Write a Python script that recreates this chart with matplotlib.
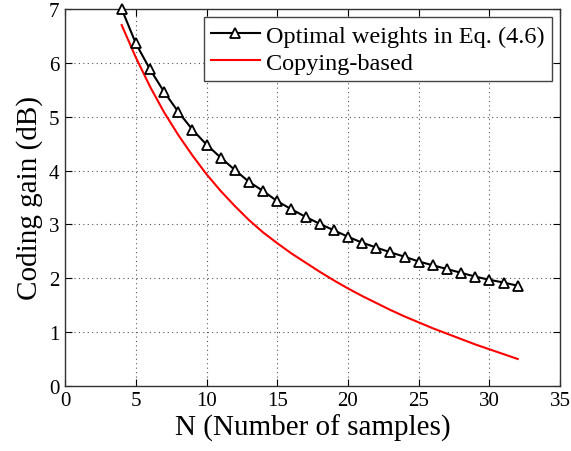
import matplotlib
matplotlib.use("Agg")
import matplotlib.pyplot as plt

N = list(range(4, 33))
optimal = [7.00, 6.36, 5.88, 5.46, 5.09, 4.76, 4.48, 4.24, 4.01, 3.79, 3.62, 3.43,
           3.28, 3.14, 3.01, 2.89, 2.77, 2.66, 2.57, 2.48, 2.40, 2.31, 2.24, 2.17,
           2.10, 2.03, 1.97, 1.92, 1.86]
copying = [6.70, 6.10, 5.56, 5.08, 4.66, 4.28, 3.93, 3.62, 3.34, 3.08, 2.85, 2.65,
           2.46, 2.29, 2.12, 1.96, 1.81, 1.67, 1.54, 1.41, 1.29, 1.18, 1.07, 0.97,
           0.87, 0.77, 0.68, 0.59, 0.50]
xticks = [0, 5, 10, 15, 20, 25, 30, 35]
yticks = [0, 1, 2, 3, 4, 5, 6, 7]

plt.rcParams['font.family'] = ['Liberation Serif', 'DejaVu Serif']

fig = plt.figure(figsize=(5.71, 4.52), dpi=100)
ax = fig.add_axes([0.114, 0.144, 0.867, 0.834])

ax.plot(N, optimal, color='black', lw=1.5, marker='^', markersize=7,
        markerfacecolor='white', markeredgecolor='black', markeredgewidth=1.3,
        label='Optimal weights in Eq. (4.6)', clip_on=False, zorder=3)
ax.plot(N, copying, color='red', lw=1.5, label='Copying-based', zorder=2)

ax.set_xlim(0, 35)
ax.set_ylim(0, 7)
ax.set_xticks(xticks)
ax.set_yticks(yticks)
ax.tick_params(direction='in', top=True, right=True, labelsize=15, length=5, pad=4)
ax.grid(True, linestyle=(0, (1, 3)), color='#555555', linewidth=0.8)
for s in ax.spines.values():
    s.set_linewidth(1.0)
    s.set_color('#333333')

ax.set_xlabel('N (Number of samples)', fontsize=21, labelpad=2)
ax.set_ylabel('Coding gain (dB)', fontsize=21, labelpad=4)

leg = ax.legend(loc='upper right', fontsize=17.5, frameon=True, fancybox=False,
                edgecolor='#444444', framealpha=1, borderaxespad=0.35,
                handlelength=2.0, handletextpad=0.25, borderpad=0.3, labelspacing=0.2)
leg.get_frame().set_linewidth(1.0)

fig.savefig('out.png', dpi=100)
